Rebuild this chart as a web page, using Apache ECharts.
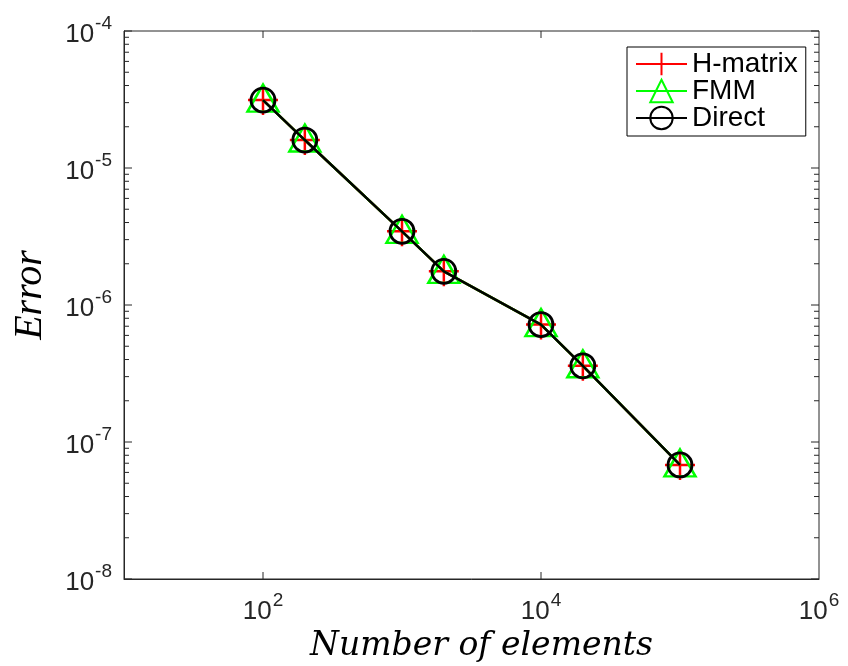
<!DOCTYPE html>
<html>
<head>
<meta charset="utf-8">
<script src="https://cdn.jsdelivr.net/npm/echarts@6/dist/echarts.min.js"></script>
<style>html,body{margin:0;padding:0;background:#fff;}#c{width:848px;height:666px;}</style>
</head>
<body>
<div id="c"></div>
<script>
// Data
const elements = [100, 200, 1000, 2000, 10000, 20000, 100000];
const hmatrix = [3.13e-5, 1.6e-5, 3.45e-6, 1.76e-6, 7.2e-7, 3.6e-7, 6.8e-8];
const fmm     = [3.13e-5, 1.6e-5, 3.45e-6, 1.76e-6, 7.2e-7, 3.6e-7, 6.8e-8];
const direct  = [3.13e-5, 1.6e-5, 3.45e-6, 1.76e-6, 7.2e-7, 3.6e-7, 6.8e-8];
const seriesNames = ['H-matrix', 'FMM', 'Direct'];
const xRange = [10, 1e6];
const yRange = [1e-8, 1e-4];
const xMajorTicks = [100, 10000];
const yMajorTicks = [1e-8, 1e-7, 1e-6, 1e-5, 1e-4];
const yMinorMultipliers = [2, 3, 4, 5, 6, 7, 8, 9];

const AX = '#262626';
const pair = (xs, ys) => xs.map((x, i) => [x, ys[i]]);

function expLabel(v, evenOnly) {
  const e = Math.round(Math.log10(v));
  if (evenOnly && e % 2 !== 0) return '';
  return '{pad|}{b|10}{s|' + e + '}';
}
const rich = {
  b: {fontSize: 26, fontFamily: 'Liberation Sans', color: AX, lineHeight: 26, verticalAlign: 'bottom'},
  s: {fontSize: 19, fontFamily: 'Liberation Sans', color: AX, lineHeight: 20, verticalAlign: 'top', padding: [0,0,0,1]},
  pad: {fontSize: 26, lineHeight: 34}
};

// tick marks drawn through the axes' scales
const tickData = [];
yMajorTicks.forEach(v => tickData.push([xRange[0], v, 0]));
for (let k = 0; k < yMajorTicks.length - 1; k++) {
  yMinorMultipliers.forEach(m => tickData.push([xRange[0], yMajorTicks[k] * m, 1]));
}
xMajorTicks.forEach(v => tickData.push([v, yRange[0], 2]));

const chart = echarts.init(document.getElementById('c'), null, {renderer: 'canvas'});
chart.setOption({
  backgroundColor: '#fff',
  animation: false,
  grid: {left: 124, right: 29, top: 31, bottom: 87, containLabel: false, outerBoundsMode: 'none',
         show: true, borderColor: AX, borderWidth: 1, backgroundColor: '#fff'},
  xAxis: {
    type: 'log', logBase: 10, min: xRange[0], max: xRange[1],
    axisLine: {show: true, lineStyle: {color: AX, width: 1}},
    axisTick: {show: false},
    splitLine: {show: false},
    axisLabel: {margin: 12, fontSize: 26, fontFamily: 'Liberation Sans', color: AX,
                formatter: v => expLabel(v, true), rich: rich, showMinLabel: true, showMaxLabel: true, hideOverlap: false},
    name: 'Number of elements', nameLocation: 'middle', nameGap: 50,
    nameTextStyle: {fontFamily: 'DejaVu Serif', fontStyle: 'italic', fontSize: 33, color: '#000', padding: [0, 0, 0, 20]}
  },
  yAxis: {
    type: 'log', logBase: 10, min: yRange[0], max: yRange[1],
    axisLine: {show: true, lineStyle: {color: AX, width: 1}},
    axisTick: {show: false},
    splitLine: {show: false},
    axisLabel: {margin: 12, fontSize: 26, fontFamily: 'Liberation Sans', color: AX,
                formatter: v => expLabel(v, false), rich: rich, showMinLabel: true, showMaxLabel: true, hideOverlap: false},
    name: 'Error', nameLocation: 'middle', nameGap: 74, nameRotate: 90,
    nameTextStyle: {fontFamily: 'Liberation Serif', fontStyle: 'italic', fontSize: 40, color: '#000', padding: [0, 0, 0, 20]}
  },
  legend: {
    data: seriesNames,
    orient: 'vertical', left: 627, top: 47,
    backgroundColor: '#fff', borderColor: '#000', borderWidth: 1, borderRadius: 0,
    padding: [3, 8, 4, 8],
    itemWidth: 51, itemHeight: 28, itemGap: -1,
    textStyle: {fontFamily: 'Liberation Sans', fontSize: 28, lineHeight: 26, color: '#000'}
  },
  series: [
    {
      name: seriesNames[0], type: 'line', data: pair(elements, hmatrix),
      symbol: 'path://M5,0V10M0,5H10', symbolSize: 30, showAllSymbol: true,
      lineStyle: {color: '#ff0000', width: 2.5},
      itemStyle: {color: 'rgba(0,0,0,0)', borderColor: '#ff0000', borderWidth: 2.5},
      z: 3
    },
    {
      name: seriesNames[1], type: 'line', data: pair(elements, fmm),
      symbol: 'triangle', symbolSize: [31, 27], symbolOffset: [0, -2],
      lineStyle: {color: '#00ff00', width: 2.5},
      itemStyle: {color: 'rgba(0,0,0,0)', borderColor: '#00ff00', borderWidth: 2.5},
      z: 4
    },
    {
      name: seriesNames[2], type: 'line', data: pair(elements, direct),
      symbol: 'circle', symbolSize: 24,
      lineStyle: {color: '#000000', width: 2.5},
      itemStyle: {color: 'rgba(0,0,0,0)', borderColor: '#000000', borderWidth: 2.8},
      z: 5
    },
    {
      name: 'ticks', type: 'custom', silent: true, data: tickData, z: 6,
      renderItem: function (params, api) {
        const kind = api.value(2);
        const style = {stroke: AX, lineWidth: 1};
        if (kind < 2) {
          const v = api.value(1);
          const len = kind === 0 ? 8 : 5;
          const l = api.coord([xRange[0], v]);
          const r = api.coord([xRange[1], v]);
          return {type: 'group', children: [
            {type: 'line', shape: {x1: l[0], y1: l[1], x2: l[0] + len, y2: l[1]}, style: style},
            {type: 'line', shape: {x1: r[0], y1: r[1], x2: r[0] - len, y2: r[1]}, style: style}
          ]};
        }
        const v = api.value(0);
        const b = api.coord([v, yRange[0]]);
        const t = api.coord([v, yRange[1]]);
        return {type: 'group', children: [
          {type: 'line', shape: {x1: b[0], y1: b[1], x2: b[0], y2: b[1] - 7}, style: style},
          {type: 'line', shape: {x1: t[0], y1: t[1], x2: t[0], y2: t[1] + 7}, style: style}
        ]};
      }
    }
  ]
});
</script>
</body>
</html>
